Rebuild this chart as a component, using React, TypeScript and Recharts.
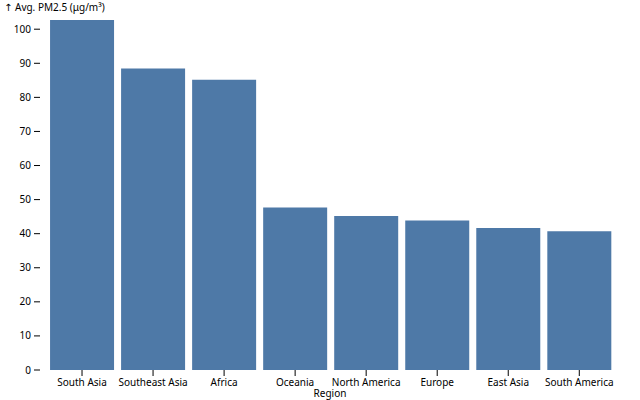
import { Bar, BarChart, Label, XAxis, YAxis } from "recharts";

const regions = [
  "South Asia",
  "Southeast Asia",
  "Africa",
  "Oceania",
  "North America",
  "Europe",
  "East Asia",
  "South America",
];
const pm25 = [102.7, 88.5, 85.2, 47.7, 45.2, 43.9, 41.7, 40.7];
const yTicks = [0, 10, 20, 30, 40, 50, 60, 70, 80, 90, 100];

const data = regions.map((region, i) => ({ region, value: pm25[i] }));

const font = "'Noto Sans', sans-serif";

export default function App() {
  return (
    <div style={{ position: "absolute", left: 0, top: 0, fontFamily: font }}>
      <BarChart
        width={640}
        height={400}
        data={data}
        margin={{ top: 20, right: 20, bottom: 0, left: 0 }}
        barCategoryGap="5%"
      >
        <XAxis
          dataKey="region"
          height={30}
          padding={{ left: 6.5, right: 5.2 }}
          axisLine={false}
          tickLine={{ stroke: "#000" }}
          tickSize={6}
          tickMargin={3}
          interval={0}
          tick={{ fill: "#000", fontSize: 10, fontFamily: font }}
        >
          <Label
            content={({ viewBox }: any) => (
              <text
                x={viewBox.x + viewBox.width / 2}
                y={397}
                textAnchor="middle"
                fontSize={10}
                fontFamily={font}
                fill="#000"
              >
                Region
              </text>
            )}
          />
        </XAxis>
        <YAxis
          type="number"
          width={40}
          domain={[0, "dataMax"]}
          ticks={yTicks}
          axisLine={false}
          tickLine={{ stroke: "#000" }}
          tickSize={6}
          tickMargin={3}
          tick={{ fill: "#000", fontSize: 10, fontFamily: font }}
        >
          <Label
            content={() => (
              <text x={4} y={11} fontSize={10} fontFamily={font} fill="#000">
                <tspan fontFamily="'DejaVu Sans', sans-serif">↑</tspan> Avg. PM2.5 (μg/m³)
              </text>
            )}
          />
        </YAxis>
        <Bar dataKey="value" fill="#4e79a7" isAnimationActive={false} />
      </BarChart>
    </div>
  );
}
